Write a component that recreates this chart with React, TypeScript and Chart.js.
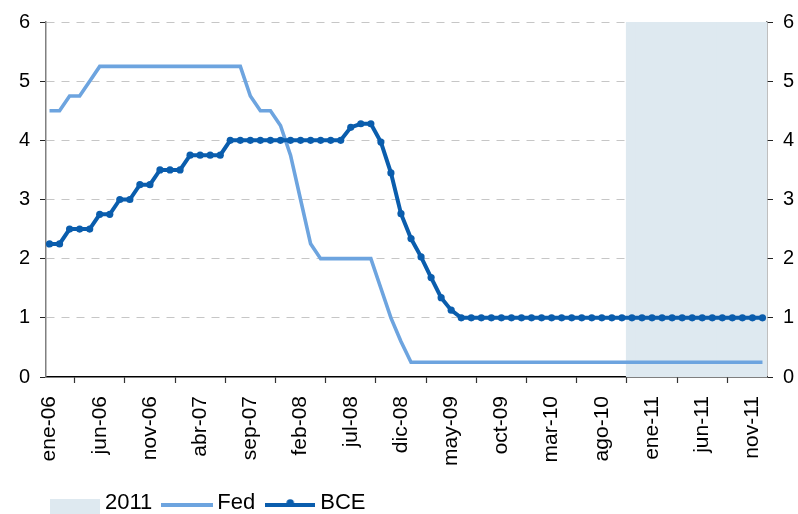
import React, { useEffect, useRef } from 'react';
import { Chart, registerables } from 'chart.js';

Chart.register(...registerables);

const monthNames = ['ene', 'feb', 'mar', 'abr', 'may', 'jun', 'jul', 'ago', 'sep', 'oct', 'nov', 'dic'];
const years = ['06', '07', '08', '09', '10', '11'];
const months: string[] = years.flatMap((y) => monthNames.map((m) => `${m}-${y}`));

// Fed funds target, monthly (ene-06 .. dic-11)
const fedRate = [
  4.5, 4.5, 4.75, 4.75, 5.0, 5.25, 5.25, 5.25, 5.25, 5.25, 5.25, 5.25,
  5.25, 5.25, 5.25, 5.25, 5.25, 5.25, 5.25, 5.25, 4.75, 4.5, 4.5, 4.25,
  3.75, 3.0, 2.25, 2.0, 2.0, 2.0, 2.0, 2.0, 2.0, 1.5, 1.0, 0.6,
  0.25, 0.25, 0.25, 0.25, 0.25, 0.25, 0.25, 0.25, 0.25, 0.25, 0.25, 0.25,
  0.25, 0.25, 0.25, 0.25, 0.25, 0.25, 0.25, 0.25, 0.25, 0.25, 0.25, 0.25,
  0.25, 0.25, 0.25, 0.25, 0.25, 0.25, 0.25, 0.25, 0.25, 0.25, 0.25, 0.25,
];

// BCE main refinancing rate, monthly average
const bceRate = [
  2.25, 2.25, 2.5, 2.5, 2.5, 2.75, 2.75, 3.0, 3.0, 3.25, 3.25, 3.5,
  3.5, 3.5, 3.75, 3.75, 3.75, 3.75, 4.0, 4.0, 4.0, 4.0, 4.0, 4.0,
  4.0, 4.0, 4.0, 4.0, 4.0, 4.0, 4.22, 4.28, 4.28, 3.97, 3.45, 2.76,
  2.34, 2.03, 1.68, 1.34, 1.13, 1.0, 1.0, 1.0, 1.0, 1.0, 1.0, 1.0,
  1.0, 1.0, 1.0, 1.0, 1.0, 1.0, 1.0, 1.0, 1.0, 1.0, 1.0, 1.0,
  1.0, 1.0, 1.0, 1.0, 1.0, 1.0, 1.0, 1.0, 1.0, 1.0, 1.0, 1.0,
];

const shadeFrom = 'nov-10';
const shadeTop = 6;
const yMax = 6;

const FED = '#6DA4DF';
const BCE = '#0A5DAD';
const SHADE = '#DEE9F0';
const FONT = "'Liberation Sans', Arial, sans-serif";

function swatch(draw: (c: CanvasRenderingContext2D) => void, w: number, h: number) {
  const cv = document.createElement('canvas');
  cv.width = w;
  cv.height = h;
  const c = cv.getContext('2d')!;
  draw(c);
  return cv;
}

// the legend row starts a bit in from the left edge
const legendOffset = {
  id: 'legendOffset',
  beforeDraw(chart: any) {
    if (chart.legend) chart.legend.left = 40;
  },
};

export default function App() {
  const chartRef = useRef<HTMLCanvasElement>(null);

  useEffect(() => {
    const el = chartRef.current;
    if (!el) return;

    const shadeStart = months.indexOf(shadeFrom);
    const shadeData = months
      .map((m, i) => ({ x: i, y: shadeTop }))
      .filter((p) => p.x >= shadeStart);

    const boxIcon = swatch((c) => {
      c.fillStyle = SHADE;
      c.fillRect(0, 11, 50, 19);
    }, 50, 30);
    const fedIcon = swatch((c) => {
      c.strokeStyle = FED;
      c.lineWidth = 4;
      c.beginPath();
      c.moveTo(0, 17);
      c.lineTo(52, 17);
      c.stroke();
    }, 52, 30);
    const bceIcon = swatch((c) => {
      c.strokeStyle = BCE;
      c.fillStyle = BCE;
      c.lineWidth = 4;
      c.beginPath();
      c.moveTo(0, 17);
      c.lineTo(50, 17);
      c.stroke();
      c.beginPath();
      c.arc(25, 15, 3.8, 0, Math.PI * 2);
      c.fill();
    }, 50, 30);

    const chart = new Chart(el, {
      type: 'line',
      data: {
        datasets: [
          {
            type: 'bar',
            label: '2011',
            data: shadeData,
            backgroundColor: SHADE,
            borderWidth: 0,
            inflateAmount: 1,
            barPercentage: 1,
            categoryPercentage: 1,
            order: 3,
          } as any,
          {
            label: 'Fed',
            data: fedRate.map((y, i) => ({ x: i, y })),
            borderColor: FED,
            borderWidth: 3.6,
            pointRadius: 0,
            tension: 0,
            order: 2,
          },
          {
            label: 'BCE',
            data: bceRate.map((y, i) => ({ x: i, y })),
            borderColor: BCE,
            backgroundColor: BCE,
            borderWidth: 4,
            pointRadius: 3.6,
            pointBorderWidth: 0,
            pointBackgroundColor: BCE,
            tension: 0,
            order: 1,
          },
        ],
      },
      options: {
        animation: false,
        responsive: true,
        maintainAspectRatio: false,
        events: [],
        layout: { padding: { left: 0, top: 21, right: 0, bottom: 0 } },
        font: { family: FONT },
        scales: {
          x: {
            type: 'linear',
            min: -0.35,
            max: 71.45,
            offset: false,
            afterFit: (s: any) => {
              s.height = 99;
            },
            border: { color: '#000', width: 1.5 },
            grid: { drawOnChartArea: false, tickLength: 6, tickColor: '#333', tickWidth: 1.2 },
            ticks: {
              stepSize: 5,
              includeBounds: false,
              autoSkip: false,
              minRotation: 90,
              maxRotation: 90,
              padding: 13,
              color: '#000',
              font: { family: FONT, size: 21 },
              callback: (v: any) => months[v as number],
            },
          },
          y: {
            position: 'left',
            min: 0,
            max: yMax,
            afterFit: (s: any) => {
              s.width = 46;
            },
            border: { color: '#808080', width: 1.5, dash: [8, 7] },
            grid: {
              color: (ctx: any) => (ctx.tick && ctx.tick.value === 0 ? 'rgba(0,0,0,0)' : '#C6C6C6'),
              lineWidth: 1,
              tickLength: 6,
              tickColor: '#222',
              tickBorderDash: [],
            },
            ticks: {
              stepSize: 1,
              padding: 10,
              color: '#000',
              font: { family: FONT, size: 20 },
            },
          },
          y2: {
            position: 'right',
            min: 0,
            max: yMax,
            afterFit: (s: any) => {
              s.width = 31;
            },
            border: { color: '#808080', width: 1.5 },
            grid: { drawOnChartArea: false, tickLength: 6, tickColor: '#222' },
            ticks: {
              stepSize: 1,
              padding: 10,
              color: '#000',
              font: { family: FONT, size: 20 },
            },
          },
        },
        plugins: {
          tooltip: { enabled: false },
          legend: {
            position: 'bottom',
            align: 'start',
            maxHeight: 38,
            labels: {
              usePointStyle: true,
              pointStyleWidth: 38,
              padding: 16,
              color: '#000',
              font: { family: FONT, size: 22 },
              generateLabels: () => [
                { text: '2011', pointStyle: boxIcon, lineWidth: 0, fillStyle: SHADE, strokeStyle: SHADE, hidden: false, datasetIndex: 0 },
                { text: 'Fed', pointStyle: fedIcon, lineWidth: 0, fillStyle: FED, strokeStyle: FED, hidden: false, datasetIndex: 1 },
                { text: 'BCE', pointStyle: bceIcon, lineWidth: 0, fillStyle: BCE, strokeStyle: BCE, hidden: false, datasetIndex: 2 },
              ] as any,
            },
          },
        },
      } as any,
      plugins: [legendOffset],
    });

    return () => chart.destroy();
  }, []);

  return (
    <div style={{ position: 'absolute', left: 0, top: 0, width: 798, height: 514 }}>
      <canvas ref={chartRef} />
    </div>
  );
}
